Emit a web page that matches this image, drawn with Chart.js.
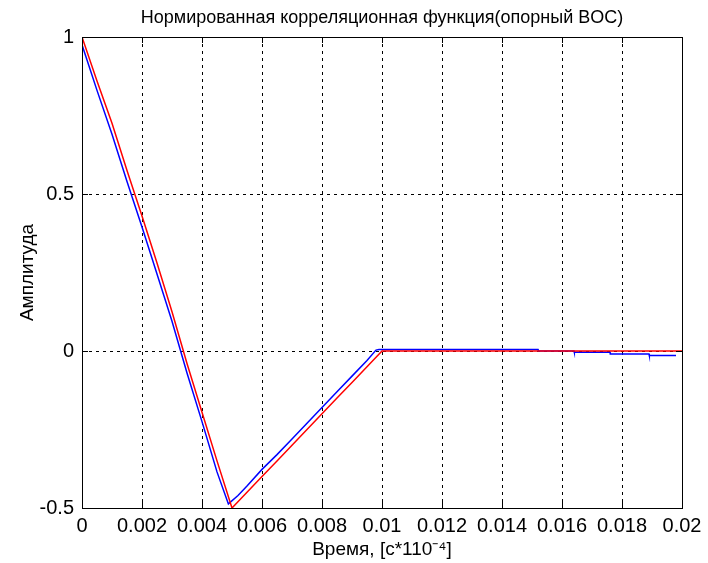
<!DOCTYPE html>
<html>
<head>
<meta charset="utf-8">
<script src="https://cdn.jsdelivr.net/npm/chart.js@4"></script>
<style>
  body { margin: 0; background: #fff; }
</style>
</head>
<body>
<canvas id="corrChart" width="708" height="563"></canvas>
<script>
// Data
const redX = [0, 0.0005, 0.001, 0.0015, 0.002, 0.0025, 0.003, 0.0035, 0.004, 0.0045, 0.005,
              0.0055, 0.006, 0.0065, 0.007, 0.0075, 0.008, 0.0085, 0.009, 0.0095, 0.01, 0.015, 0.02];
const redY = [1, 0.86, 0.725, 0.575, 0.43, 0.28, 0.125, -0.04, -0.195, -0.35, -0.5,
              -0.45, -0.4, -0.35, -0.3, -0.25, -0.2, -0.15, -0.1, -0.05, 0, 0, 0];

const blueX = [0, 0.0005, 0.001, 0.0015, 0.002, 0.0025, 0.003, 0.0035, 0.004, 0.0045, 0.00488, 0.0052,
               0.0055, 0.006, 0.0065, 0.007, 0.0075, 0.008, 0.0085, 0.009, 0.0095, 0.0098, 0.0099,
               0.0152, 0.01521, 0.0164, 0.01641, 0.0176, 0.01761, 0.0189, 0.01891, 0.0198];
const blueY = [0.975, 0.83, 0.69, 0.54, 0.395, 0.245, 0.095, -0.07, -0.225, -0.385, -0.487, -0.46,
               -0.43, -0.377, -0.33, -0.28, -0.23, -0.18, -0.13, -0.08, -0.03, 0.003, 0.005,
               0.005, 0, 0, -0.004, -0.004, -0.0096, -0.0096, -0.014, -0.014];

const xTicks = [0, 0.002, 0.004, 0.006, 0.008, 0.01, 0.012, 0.014, 0.016, 0.018, 0.02];
const yTicks = [-0.5, 0, 0.5, 1];

const titleText = 'Нормированная корреляционная функция(опорный BOC)';
const xTitle = 'Время, [c*110⁻⁴]';
const yTitle = 'Амплитуда';

const fontFamily = '"Liberation Sans", Arial, sans-serif';

function toPoints(xs, ys) {
    return xs.map((x, i) => ({ x: x, y: ys[i] }));
}

// frame, inner tick marks and the title (MATLAB style)
const matlabFrame = {
    id: 'matlabFrame',
    afterDraw(chart) {
        const ctx = chart.ctx;
        const a = chart.chartArea;
        const xs = chart.scales.x;
        const ys = chart.scales.y;
        ctx.save();
        ctx.strokeStyle = '#000';
        ctx.lineWidth = 1;
        ctx.setLineDash([]);
        ctx.strokeRect(Math.round(a.left) + 0.5, Math.round(a.top) + 0.5,
                       Math.round(a.right - a.left), Math.round(a.bottom - a.top));
        ctx.beginPath();
        xTicks.forEach(v => {
            const px = Math.round(xs.getPixelForValue(v)) + 0.5;
            ctx.moveTo(px, a.bottom); ctx.lineTo(px, a.bottom - 6);
            ctx.moveTo(px, a.top); ctx.lineTo(px, a.top + 6);
        });
        yTicks.forEach(v => {
            const py = Math.round(ys.getPixelForValue(v)) + 0.5;
            ctx.moveTo(a.left, py); ctx.lineTo(a.left + 6, py);
            ctx.moveTo(a.right, py); ctx.lineTo(a.right - 6, py);
        });
        ctx.stroke();
        ctx.fillStyle = '#000';
        ctx.font = '18px ' + fontFamily;
        ctx.textAlign = 'center';
        ctx.textBaseline = 'middle';
        ctx.fillText(titleText, (a.left + a.right) / 2, 18);
        ctx.restore();
    }
};

const ctx = document.getElementById('corrChart').getContext('2d');
const corrChart = new Chart(ctx, {
    type: 'scatter',
    data: {
        datasets: [{
            label: 'опорный',
            data: toPoints(redX, redY),
            showLine: true,
            borderColor: '#ff0000',
            borderWidth: 1.5,
            pointRadius: 0,
            tension: 0
        }, {
            label: 'BOC',
            data: toPoints(blueX, blueY),
            showLine: true,
            borderColor: '#0000ff',
            borderWidth: 1.5,
            pointRadius: 0,
            tension: 0
        }]
    },
    options: {
        responsive: false,
        animation: false,
        layout: {
            padding: { top: 37, right: 26, left: 0, bottom: 0 }
        },
        scales: {
            x: {
                type: 'linear',
                min: 0,
                max: 0.02,
                afterBuildTicks: scale => { scale.ticks = xTicks.map(v => ({ value: v })); },
                afterFit: scale => { scale.height = 55; },
                grid: { color: '#000', lineWidth: 1, drawTicks: false },
                border: { display: false, dash: [3, 4] },
                ticks: {
                    color: '#000',
                    padding: 6,
                    maxRotation: 0,
                    autoSkip: false,
                    font: { family: fontFamily, size: 20 },
                    callback: v => String(Number(v.toFixed(3)))
                },
                title: {
                    display: true,
                    text: xTitle,
                    color: '#000',
                    padding: { top: 0, bottom: 2 },
                    font: { family: fontFamily, size: 19 }
                }
            },
            y: {
                type: 'linear',
                min: -0.5,
                max: 1,
                afterBuildTicks: scale => { scale.ticks = yTicks.map(v => ({ value: v })); },
                afterFit: scale => { scale.width = 82; },
                grid: { color: '#000', lineWidth: 1, drawTicks: false },
                border: { display: false, dash: [3, 4] },
                ticks: {
                    color: '#000',
                    padding: 8,
                    font: { family: fontFamily, size: 20 },
                    callback: v => String(v)
                },
                title: {
                    display: true,
                    text: yTitle,
                    color: '#000',
                    padding: { top: 16, bottom: 0 },
                    font: { family: fontFamily, size: 19 }
                }
            }
        },
        plugins: {
            legend: { display: false },
            tooltip: { enabled: false }
        }
    },
    plugins: [matlabFrame]
});
</script>
</body>
</html>
